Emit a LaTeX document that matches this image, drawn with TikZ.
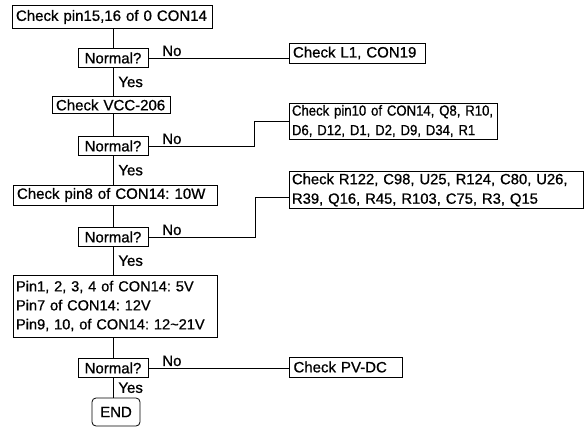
\documentclass[tikz,border=0pt]{standalone}
\usepackage{fontspec}
\setmainfont[FakeBold=0.8]{Liberation Sans}
\newfontfamily\narrowsans[FakeBold=0.8, FakeStretch=0.9]{Liberation Sans}
\usepackage{tikz}
\usetikzlibrary{positioning, calc}
\frenchspacing

\begin{document}
\begin{tikzpicture}[x=1pt, y=-1pt, line width=0.8pt,
  font=\fontsize{15}{19.5}\selectfont]

\useasboundingbox (0,0) rectangle (587,428);

\tikzset{
  chkbox/.style={draw, align=left, text width=#1, inner xsep=4pt, inner ysep=2pt, minimum height=20pt},
  askbox/.style={draw, minimum width=70pt, minimum height=19pt, inner sep=2pt},
  endbox/.style={draw, rounded corners=4pt, minimum width=48pt, minimum height=28pt, inner sep=2pt},
  nolab/.style={above right, pos=0, xshift=12pt, inner sep=1.5pt},
  yeslab/.style={right, xshift=4pt, inner sep=1pt}
}

\node[chkbox=192pt, minimum height=23pt]   (chk1)  at (112,17)  {Check pin15,16 of 0 CON14};
\node[askbox]                              (ok1)   at (113,58)  {Normal?};
\node[chkbox=128pt]                        (l1)    at (357,53)  {Check L1, CON19};
\node[chkbox=110pt, minimum height=17pt]   (vcc)   at (111,105) {Check VCC-206};
\node[askbox]                              (ok2)   at (113,146) {Normal?};
\node[chkbox=202pt, inner xsep=3pt, font=\narrowsans\fontsize{14.6}{19.5}\selectfont] (pin10) at (393,121) {Check pin10 of CON14, Q8, R10,\\D6, D12, D1, D2, D9, D34, R1};
\node[chkbox=196pt]                        (pin8)  at (115,195) {Check pin8 of CON14: 10W};
\node[askbox]                              (ok3)   at (113,237) {Normal?};
\node[chkbox=288pt, inner xsep=3pt, font=\fontsize{14.8}{19.5}\selectfont] (r122) at (436,190) {Check R122, C98, U25, R124, C80, U26,\\R39, Q16, R45, R103, C75, R3, Q15};
\node[chkbox=198pt, inner xsep=3pt, minimum height=62pt, font=\fontsize{14.6}{19}\selectfont] (pins) at (115,306) {Pin1, 2, 3, 4 of CON14: 5V\\Pin7 of CON14: 12V\\Pin9, 10, of CON14: 12\textasciitilde21V};
\node[askbox]                              (ok4)   at (113,368) {Normal?};
\node[chkbox=105pt]                        (pvdc)  at (346,367) {Check PV-DC};
\node[endbox]                              (stop)  at (116,412) {END};

\draw (chk1.south -| ok1.north) -- (ok1);
\draw (ok1) -- node[yeslab] {Yes} (ok1.south |- vcc.north);
\draw (vcc.south -| ok2.north) -- (ok2);
\draw (ok2) -- node[yeslab] {Yes} (ok2.south |- pin8.north);
\draw (pin8.south -| ok3.north) -- (ok3);
\draw (ok3) -- node[yeslab] {Yes} (ok3.south |- pins.north);
\draw (pins.south -| ok4.north) -- (ok4);
\draw (ok4) -- node[yeslab] {Yes} (ok4.south |- stop.north);

\draw (ok1.east) -- node[nolab] {No} (l1.west |- ok1.east);
\draw (ok2.east) -- node[nolab] {No} ++(106,0) |- (pin10.west);
\draw (ok3.east) -- node[nolab] {No} ++(107,0) |- ($(r122.west)+(0,7)$);
\draw (ok4.east) -- node[nolab] {No} (pvdc.west |- ok4.east);

\end{tikzpicture}
\end{document}
